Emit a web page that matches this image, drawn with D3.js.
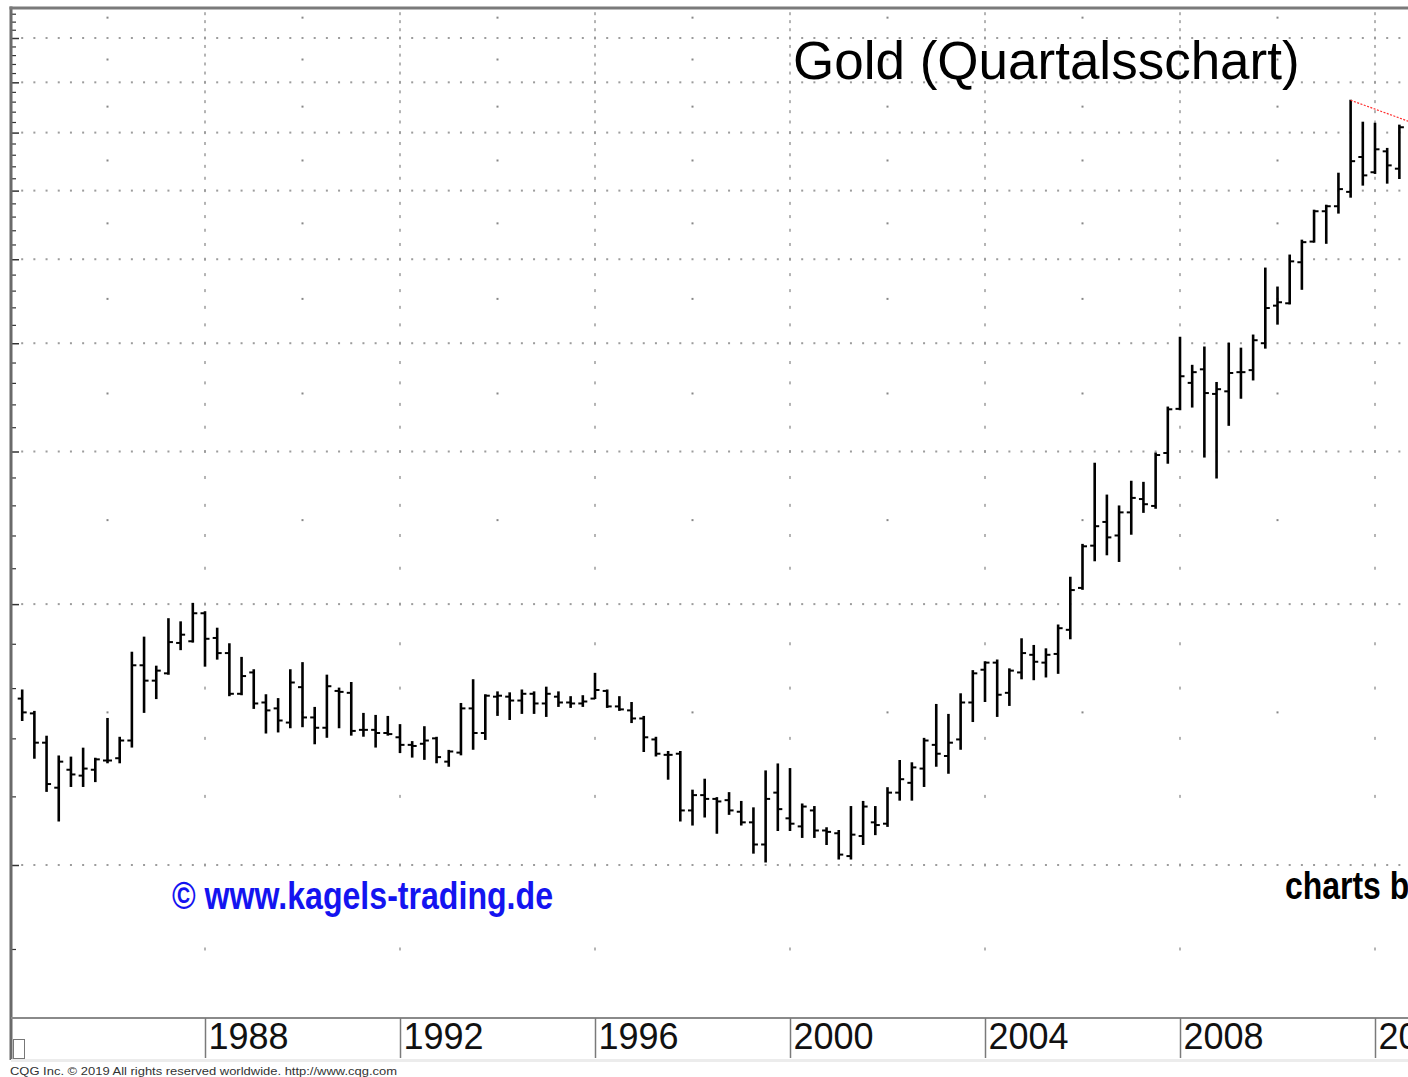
<!DOCTYPE html>
<html>
<head>
<meta charset="utf-8">
<script src="https://cdn.jsdelivr.net/npm/d3@7"></script>
<style>
  body { margin: 0; background: #fff; overflow: hidden; }
  svg { display: block; font-family: 'Liberation Sans', Arial, sans-serif; }
</style>
</head>
<body>
<svg id="chart" width="1408" height="1077"></svg>
<script>
// quarterly OHLC, gold in USD
const quarters = [
  '1984Q2','1984Q3','1984Q4',
  '1985Q1','1985Q2','1985Q3','1985Q4',
  '1986Q1','1986Q2','1986Q3','1986Q4',
  '1987Q1','1987Q2','1987Q3','1987Q4',
  '1988Q1','1988Q2','1988Q3','1988Q4',
  '1989Q1','1989Q2','1989Q3','1989Q4',
  '1990Q1','1990Q2','1990Q3','1990Q4',
  '1991Q1','1991Q2','1991Q3','1991Q4',
  '1992Q1','1992Q2','1992Q3','1992Q4',
  '1993Q1','1993Q2','1993Q3','1993Q4',
  '1994Q1','1994Q2','1994Q3','1994Q4',
  '1995Q1','1995Q2','1995Q3','1995Q4',
  '1996Q1','1996Q2','1996Q3','1996Q4',
  '1997Q1','1997Q2','1997Q3','1997Q4',
  '1998Q1','1998Q2','1998Q3','1998Q4',
  '1999Q1','1999Q2','1999Q3','1999Q4',
  '2000Q1','2000Q2','2000Q3','2000Q4',
  '2001Q1','2001Q2','2001Q3','2001Q4',
  '2002Q1','2002Q2','2002Q3','2002Q4',
  '2003Q1','2003Q2','2003Q3','2003Q4',
  '2004Q1','2004Q2','2004Q3','2004Q4',
  '2005Q1','2005Q2','2005Q3','2005Q4',
  '2006Q1','2006Q2','2006Q3','2006Q4',
  '2007Q1','2007Q2','2007Q3','2007Q4',
  '2008Q1','2008Q2','2008Q3','2008Q4',
  '2009Q1','2009Q2','2009Q3','2009Q4',
  '2010Q1','2010Q2','2010Q3','2010Q4',
  '2011Q1','2011Q2','2011Q3','2011Q4',
  '2012Q1','2012Q2','2012Q3'
];

const open = [
  389,374,346, 307,322,317,322, 330,332,348,425, 408,416,451,453,
  488,457,439,394, 417,385,379,365, 401,370,360,397, 395,358,358,355,
  351,344,345,350, 329,337,379,355, 391,391,387,394, 384,391,385,384,
  389,397,381,377, 369,349,335,336, 289,301,298,297, 288,280,264,303,
  283,277,289,274, 272,256,270,280, 279,303,311,323, 344,334,349,385,
  420,428,395,417, 437,428,438,467, 522,584,622,600, 638,661,649,747,
  840,900,933,874, 880,926,931,1000, 1105,1112,1240,1310, 1420,1439,1495,1640,
  1575,1665,1590
];
const high = [
  398,376,352, 334,333,341,332, 369,351,440,458, 424,481,477,501,
  490,469,450,434, 420,393,389,420, 428,380,414,400, 406,374,372,371,
  363,347,361,351, 339,384,409,393, 396,395,398,396, 401,396,391,392,
  416,398,391,385, 371,351,338,338, 305,314,299,303, 296,291,321,327,
  323,294,292,276, 274,292,296,292, 307,330,328,350, 383,373,394,419,
  429,431,421,456, 448,444,473,537, 586,727,668,649, 693,691,747,844,
  1016,943,990,901, 1000,987,1022,1221, 1161,1264,1315,1424, 1443,1571,1907,1799,
  1794,1678,1785
];
const low = [
  367,332,304, 281,308,308,312, 328,328,342,375, 389,415,443,452,
  424,432,392,393, 379,355,356,360, 361,345,351,360, 353,352,342,353,
  337,333,331,328, 325,335,340,349, 372,368,374,374, 371,381,380,381,
  389,380,377,365, 338,334,314,281, 278,284,272,286, 278,258,252,274,
  274,269,269,264, 254,254,264,271, 277,297,297,308, 325,319,340,366,
  386,371,382,410, 409,412,416,456, 520,561,570,560, 602,638,645,727,
  838,844,739,699, 804,864,907,987, 1052,1110,1154,1308, 1304,1413,1474,1522,
  1570,1530,1549
];
const close = [
  375,346,310, 329,318,323,331, 330,348,425,408, 419,452,461,488,
  456,439,394,413, 384,377,367,406, 370,360,402,396, 357,358,355,354,
  344,343,348,333, 338,379,355,392, 392,387,394,384, 394,385,384,386,
  398,381,378,369, 351,336,335,289, 301,298,296,289, 280,264,298,290,
  279,292,274,273, 257,271,292,278, 303,314,324,348, 336,346,385,416,
  428,393,419,439, 429,437,469,519, 583,615,597,638, 663,652,743,839,
  916,926,876,885, 924,926,1008,1098, 1115,1243,1308,1420, 1439,1506,1622,1562,
  1674,1604,1775
];

const yearTicks = [1988, 1992, 1996, 2000, 2004, 2008, 2012];
const gridPrices = [250, 500, 750, 1000, 1250, 1500, 1750, 2000, 2250];
const midPrices = [375, 625, 875, 1125, 1375, 1625, 1875, 2125, 2375];
const midYears = [1986, 1990, 1994, 1998, 2002, 2006, 2010];
// red dotted resistance line: 2011 high to 2012 high
const trendLine = [
  { q: '2011Q3', price: 1907 },
  { q: '2012Q4', price: 1798 }
];

const width = 1408;
const height = 1077;
const plot = { left: 11, top: 8, right: width, bottom: 1018 };

const svg = d3.select('#chart');
svg.append('rect').attr('width', width).attr('height', height).attr('fill', '#fff');

const qTime = (q) => +q.slice(0, 4) + (+q.slice(5) - 1) / 4;

const x = d3.scaleLinear().domain([1988, 2012]).range([205, 1375]);
const y = d3.scaleLog().domain([250, 2250]).range([865, 38]);

const bars = quarters.map((q, i) => ({
  t: qTime(q), o: open[i], h: high[i], l: low[i], c: close[i]
}));

svg.append('defs').append('clipPath').attr('id', 'plotClip')
  .append('rect')
  .attr('x', plot.left + 1).attr('y', plot.top + 1)
  .attr('width', plot.right - plot.left).attr('height', plot.bottom - plot.top - 2);

const inner = svg.append('g').attr('clip-path', 'url(#plotClip)');

// dotted grid
const quarterSteps = d3.range(1984, 2013.01, 0.25);
const grid = inner.append('g').attr('fill', '#9c9c9c');

grid.selectAll('g.hrow')
  .data(gridPrices)
  .join('g')
  .attr('class', 'hrow')
  .selectAll('rect')
  .data((p) => quarterSteps.map((t) => ({ t, p })))
  .join('rect')
  .attr('x', (d) => x(d.t) - 1)
  .attr('y', (d) => y(d.p) - 1)
  .attr('width', 2)
  .attr('height', 2);

const minorPrices = d3.range(200, 2401, 50);
grid.selectAll('g.vcol')
  .data(yearTicks)
  .join('g')
  .attr('class', 'vcol')
  .selectAll('rect')
  .data((yr) => minorPrices.map((p) => ({ yr, p })))
  .join('rect')
  .attr('x', (d) => x(d.yr) - 0.75)
  .attr('y', (d) => y(d.p) - 1.5)
  .attr('width', 1.5)
  .attr('height', 3);

grid.selectAll('g.mcol')
  .data(midYears)
  .join('g')
  .attr('class', 'mcol')
  .selectAll('rect')
  .data((yr) => midPrices.map((p) => ({ yr, p })))
  .join('rect')
  .attr('x', (d) => x(d.yr) - 1)
  .attr('y', (d) => y(d.p) - 1)
  .attr('width', 2)
  .attr('height', 2)
  .attr('fill', '#888');

// OHLC bars
const barG = inner.append('g').attr('stroke', '#000');
const bar = barG.selectAll('g').data(bars).join('g');
bar.append('line')
  .attr('x1', (d) => x(d.t)).attr('x2', (d) => x(d.t))
  .attr('y1', (d) => y(d.h) - 0.5).attr('y2', (d) => y(d.l) + 0.5)
  .attr('stroke-width', 2.6);
bar.append('line')
  .attr('x1', (d) => x(d.t) - 4.5).attr('x2', (d) => x(d.t))
  .attr('y1', (d) => y(d.o)).attr('y2', (d) => y(d.o))
  .attr('stroke-width', 2);
bar.append('line')
  .attr('x1', (d) => x(d.t)).attr('x2', (d) => x(d.t) + 4.5)
  .attr('y1', (d) => y(d.c)).attr('y2', (d) => y(d.c))
  .attr('stroke-width', 2);

inner.append('path')
  .datum(trendLine)
  .attr('fill', 'none')
  .attr('stroke', '#ff3030')
  .attr('stroke-width', 1.2)
  .attr('stroke-dasharray', '2,1.5')
  .attr('d', d3.line().x((d) => x(qTime(d.q))).y((d) => y(d.price)));

// left price ticks (labels are off to the right, outside the crop)
const tickG = svg.append('g').attr('transform', `translate(${plot.left + 1},0)`);
tickG.call(d3.axisRight(y).tickValues(minorPrices.filter((p) => p % 250 !== 0)).tickSize(4).tickFormat(''))
  .call((g) => g.select('.domain').remove())
  .call((g) => g.selectAll('line').attr('stroke', '#333').attr('stroke-width', 1.2));
const majorG = svg.append('g').attr('transform', `translate(${plot.left + 1},0)`);
majorG.call(d3.axisRight(y).tickValues(gridPrices).tickSize(7).tickFormat(''))
  .call((g) => g.select('.domain').remove())
  .call((g) => g.selectAll('line').attr('stroke', '#333').attr('stroke-width', 1.5));

// frame
svg.append('line')
  .attr('x1', plot.left).attr('x2', plot.left)
  .attr('y1', plot.top - 1.5).attr('y2', 1060)
  .attr('stroke', '#6a6a6a').attr('stroke-width', 3);
svg.append('line')
  .attr('x1', plot.left - 1.5).attr('x2', width)
  .attr('y1', plot.top).attr('y2', plot.top)
  .attr('stroke', '#7a7a7a').attr('stroke-width', 3);
svg.append('line')
  .attr('x1', plot.left).attr('x2', width)
  .attr('y1', plot.bottom).attr('y2', plot.bottom)
  .attr('stroke', '#8a8a8a').attr('stroke-width', 2);
svg.append('rect')
  .attr('x', plot.left).attr('y', 1059)
  .attr('width', width - plot.left).attr('height', 3)
  .attr('fill', '#ececec');

// year axis
const xAxis = svg.append('g').attr('transform', `translate(0,${plot.bottom})`);
xAxis.call(d3.axisBottom(x).tickValues(yearTicks).tickSize(40).tickFormat(d3.format('d')))
  .call((g) => g.select('.domain').remove())
  .call((g) => g.selectAll('line').attr('stroke', '#7a7a7a').attr('stroke-width', 1.5))
  .call((g) => g.selectAll('text')
    .attr('x', 3).attr('y', 31).attr('dy', null)
    .attr('text-anchor', 'start')
    .attr('font-family', "'Liberation Sans', Arial, sans-serif")
    .attr('font-size', 36)
    .attr('fill', '#111'));

svg.append('rect')
  .attr('x', 13.5).attr('y', 1039.5).attr('width', 11).attr('height', 19)
  .attr('fill', 'none').attr('stroke', '#777').attr('stroke-width', 1);

// texts
svg.append('text')
  .attr('x', 793).attr('y', 79)
  .attr('font-size', 53)
  .attr('fill', '#000')
  .text('Gold (Quartalsschart)');

svg.append('text')
  .attr('x', 172).attr('y', 909)
  .attr('font-size', 39)
  .attr('font-weight', 'bold')
  .attr('fill', '#1414f0')
  .attr('textLength', 381)
  .attr('lengthAdjust', 'spacingAndGlyphs')
  .text('\u00a9 www.kagels-trading.de');

// cut off at the right edge, as in the source picture
svg.append('text')
  .attr('x', 1285).attr('y', 899)
  .attr('font-size', 38)
  .attr('font-weight', 'bold')
  .attr('fill', '#000')
  .attr('textLength', 142)
  .attr('lengthAdjust', 'spacingAndGlyphs')
  .text('charts by');

svg.append('text')
  .attr('x', 10).attr('y', 1075)
  .attr('font-size', 11.5)
  .attr('fill', '#333')
  .attr('textLength', 387)
  .attr('lengthAdjust', 'spacingAndGlyphs')
  .text('CQG Inc. \u00a9 2019 All rights reserved worldwide. http://www.cqg.com');
</script>
</body>
</html>
